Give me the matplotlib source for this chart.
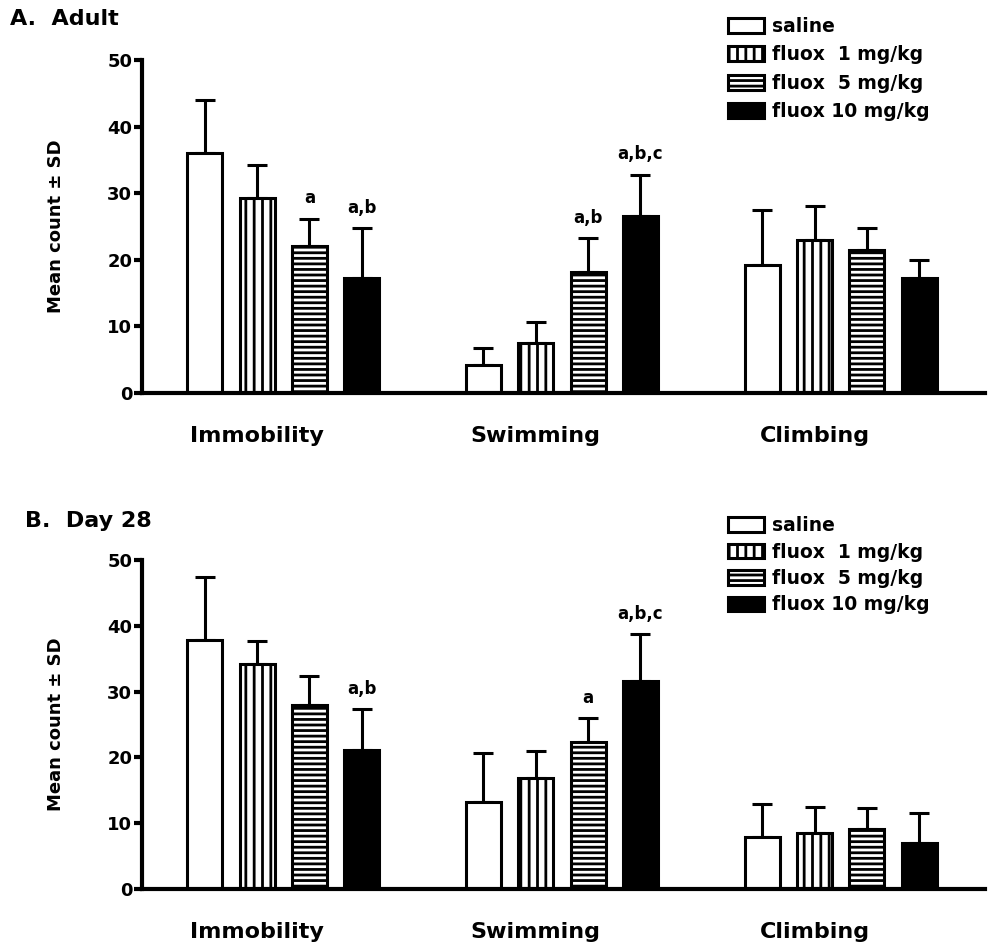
import numpy as np
import matplotlib
matplotlib.use('Agg')
import matplotlib.pyplot as plt

groups = ['Immobility', 'Swimming', 'Climbing']
treatments = ['saline', 'fluox  1 mg/kg', 'fluox  5 mg/kg', 'fluox 10 mg/kg']

# A. Adult: mean and SD, one row per treatment (Immobility, Swimming, Climbing)
adult_mean = [[36.0, 4.2, 19.2],
              [29.3, 7.5, 22.9],
              [22.0, 18.1, 21.5],
              [17.3, 26.6, 17.2]]
adult_sd = [[8.0, 2.5, 8.3],
            [4.9, 3.2, 5.2],
            [4.2, 5.2, 3.3],
            [7.5, 6.2, 2.8]]
adult_sig = [['', '', ''],
             ['', '', ''],
             ['a', 'a,b', ''],
             ['a,b', 'a,b,c', '']]

# B. Day 28
day28_mean = [[37.8, 13.2, 7.9],
              [34.2, 16.9, 8.5],
              [28.0, 22.3, 9.1],
              [21.1, 31.6, 7.0]]
day28_sd = [[9.6, 7.5, 5.0],
            [3.5, 4.1, 4.0],
            [4.4, 3.7, 3.2],
            [6.3, 7.2, 4.6]]
day28_sig = [['', '', ''],
             ['', '', ''],
             ['', 'a', ''],
             ['a,b', 'a,b,c', '']]

fills = ['white', 'white', 'white', 'black']
hatches = [None, '||', '---', None]

plt.rcParams['font.family'] = 'DejaVu Sans'
plt.rcParams['font.weight'] = 'bold'
plt.rcParams['hatch.linewidth'] = 2.0

fig = plt.figure(figsize=(9.92, 9.48), dpi=100)
W, H = 992, 948


def draw_panel(ax, means, sds, sig, legend_top, legend_space):
    x0 = np.arange(len(groups)) * 5.33
    for i, t in enumerate(treatments):
        xs = x0 + i
        ax.bar(xs, means[i], width=0.67, color=fills[i], edgecolor='black',
               hatch=hatches[i], linewidth=2.2, label=t, zorder=2)
        ax.errorbar(xs, means[i], yerr=[np.zeros(len(xs)), sds[i]], fmt='none',
                    ecolor='black', elinewidth=2.2, capsize=7, capthick=2.2, zorder=1)
        for x, m, s, lab in zip(xs, means[i], sds[i], sig[i]):
            if lab:
                ax.annotate(lab, (x, m + s), xytext=(0, 8), textcoords='offset points',
                            ha='center', va='bottom', fontsize=12, fontweight='bold')

    ax.set_xlim(-1.2, 14.92)
    ax.set_ylim(0, 50)
    ax.set_yticks(range(0, 51, 10))
    ax.set_xticks(x0 + 1.0)
    ax.set_xticklabels(groups)
    ax.tick_params(axis='x', length=0, pad=24, labelsize=16)
    ax.tick_params(axis='y', length=6, width=3, pad=1, labelsize=13)
    for lab in ax.get_xticklabels() + ax.get_yticklabels():
        lab.set_fontweight('bold')
    ax.spines[['top', 'right']].set_visible(False)
    ax.spines[['left', 'bottom']].set_linewidth(3)
    ax.set_ylabel('Mean count ± SD', fontsize=13, fontweight='bold')
    ax.yaxis.set_label_coords(-0.091, 0.5)

    ax.legend(loc='upper left', bbox_to_anchor=(728 / W, 1 - legend_top / H),
              bbox_transform=fig.transFigure, frameon=False, fontsize=13.5,
              handlelength=1.9, handleheight=0.85, handletextpad=0.45,
              labelspacing=legend_space, borderaxespad=0, borderpad=0)


ax_a = fig.add_axes([142 / W, 1 - 393 / H, 843 / W, 333 / H])
draw_panel(ax_a, adult_mean, adult_sd, adult_sig, 17, 0.5)
fig.text(10 / W, 1 - 25 / H, 'A.  Adult', fontsize=16, fontweight='bold', va='baseline')

ax_b = fig.add_axes([142 / W, 1 - 889 / H, 843 / W, 329 / H])
draw_panel(ax_b, day28_mean, day28_sd, day28_sig, 516, 0.4)
fig.text(25 / W, 1 - 527 / H, 'B.  Day 28', fontsize=16, fontweight='bold', va='baseline')

fig.savefig('out.png', dpi=100)
